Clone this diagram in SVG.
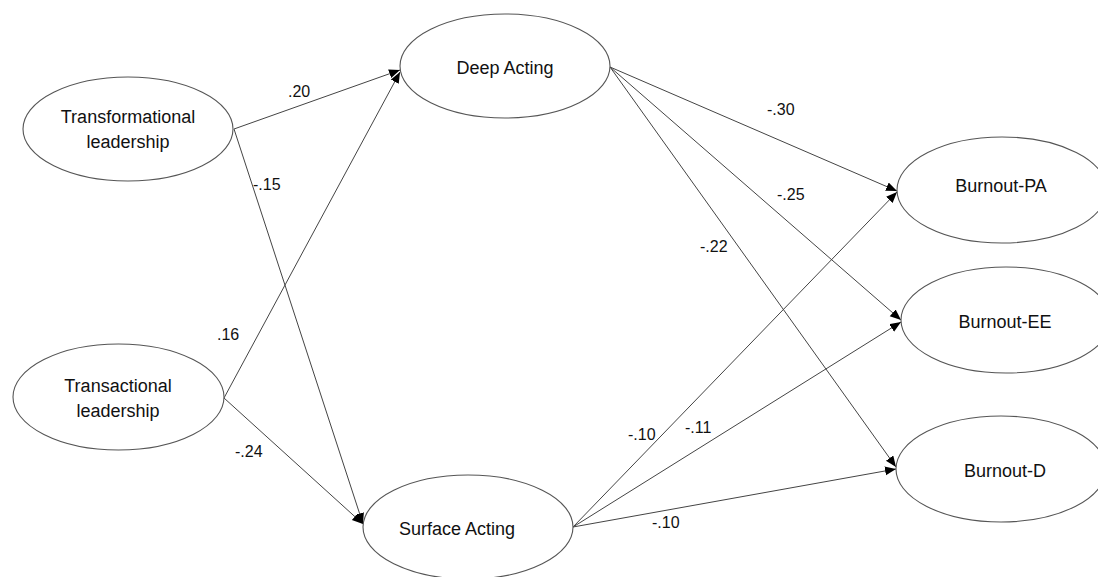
<svg xmlns="http://www.w3.org/2000/svg" width="1098" height="577" viewBox="0 0 1098 577">
<style>
.node ellipse { fill: #ffffff; stroke: #555555; stroke-width: 1.1; }
.node text { font-family: "Liberation Sans", Arial, sans-serif; font-size: 18px; fill: #111111; text-anchor: middle; }
.edge { stroke: #444444; stroke-width: 1; fill: none; marker-end: url(#arrow); }
.lbl { font-family: "Liberation Sans", Arial, sans-serif; font-size: 16px; fill: #111111; }
</style>
<defs>
<marker id="arrow" markerUnits="userSpaceOnUse" markerWidth="12" markerHeight="10" refX="11" refY="4.5" orient="auto">
<path d="M0,0 L11,4.5 L0,9 z" fill="#000000"/>
</marker>
</defs>
<rect x="0" y="0" width="1098" height="577" fill="#ffffff"/>
<g id="connectors">
<line class="edge" x1="234" y1="129" x2="400" y2="70"/>
<line class="edge" x1="234" y1="129" x2="363" y2="524"/>
<line class="edge" x1="224" y1="398" x2="400" y2="72"/>
<line class="edge" x1="224" y1="398" x2="363" y2="524"/>
<line class="edge" x1="610" y1="67" x2="897" y2="191"/>
<line class="edge" x1="610" y1="67" x2="901" y2="320"/>
<line class="edge" x1="610" y1="67" x2="896" y2="467"/>
<line class="edge" x1="573" y1="527" x2="897" y2="192"/>
<line class="edge" x1="573" y1="527" x2="901" y2="322"/>
<line class="edge" x1="573" y1="527" x2="896" y2="469"/>
</g>
<g id="edge-labels">
<text class="lbl" x="288" y="97">.20</text>
<text class="lbl" x="253" y="190">-.15</text>
<text class="lbl" x="217" y="340">.16</text>
<text class="lbl" x="235" y="457">-.24</text>
<text class="lbl" x="767" y="115">-.30</text>
<text class="lbl" x="777" y="200">-.25</text>
<text class="lbl" x="700" y="252">-.22</text>
<text class="lbl" x="628" y="440">-.10</text>
<text class="lbl" x="685" y="433">-.11</text>
<text class="lbl" x="652" y="528">-.10</text>
</g>
<g id="transformational" class="node">
<ellipse cx="128" cy="129" rx="105" ry="52"/>
<text x="128" y="123">Transformational</text>
<text x="128" y="148">leadership</text>
</g>
<g id="transactional" class="node">
<ellipse cx="118.5" cy="397" rx="105.5" ry="53"/>
<text x="118" y="392">Transactional</text>
<text x="118" y="417">leadership</text>
</g>
<g id="deep-acting" class="node">
<ellipse cx="505" cy="66" rx="105" ry="52"/>
<text x="505" y="74">Deep Acting</text>
</g>
<g id="surface-acting" class="node">
<ellipse cx="468" cy="527" rx="105" ry="52"/>
<text x="457" y="535">Surface Acting</text>
</g>
<g id="burnout-pa" class="node">
<ellipse cx="1002" cy="190" rx="105" ry="53"/>
<text x="1001" y="192">Burnout-PA</text>
</g>
<g id="burnout-ee" class="node">
<ellipse cx="1006" cy="320" rx="105" ry="53"/>
<text x="1005" y="328">Burnout-EE</text>
</g>
<g id="burnout-d" class="node">
<ellipse cx="1001" cy="469" rx="105" ry="53"/>
<text x="1005" y="477">Burnout-D</text>
</g>
</svg>
